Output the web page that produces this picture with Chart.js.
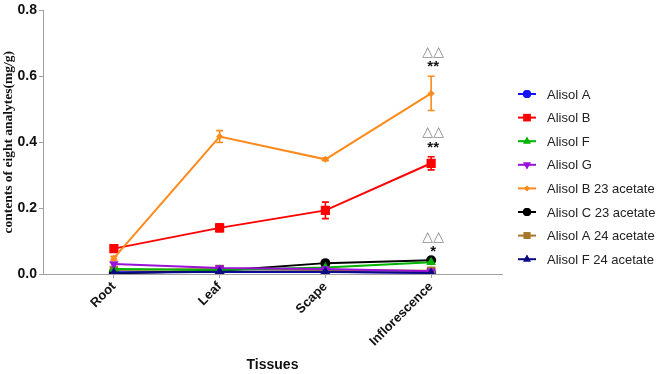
<!DOCTYPE html>
<html>
<head>
<meta charset="utf-8">
<script src="https://cdn.jsdelivr.net/npm/chart.js@4/dist/chart.umd.min.js"></script>
<style>
  html, body { margin: 0; padding: 0; background: #fff; }
  #wrap { width: 666px; height: 374px; position: relative; }
</style>
</head>
<body>
<div id="wrap"><canvas id="tissueChart"></canvas></div>
<script>
// categories and tick labels
const tissues = ["Root", "Leaf", "Scape", "Inflorescence"];
const yTicks = [0, 0.2, 0.4, 0.6, 0.8];

// series values (mg/g)
const alisolA = [0.005, 0.006, 0.006, 0.004];
const alisolB = [0.077, 0.140, 0.193, 0.336];
const alisolF = [0.015, 0.012, 0.020, 0.036];
const alisolG = [0.030, 0.018, 0.015, 0.008];
const alisolB23 = [0.048, 0.417, 0.348, 0.548];
const alisolC23 = [0.002, 0.010, 0.033, 0.042];
const alisolA24 = [0.012, 0.015, 0.012, 0.010];
const alisolF24 = [0.004, 0.007, 0.007, 0.003];

// error bars (SD)
const alisolBErr = [0.010, 0.012, 0.025, 0.020];
const alisolB23Err = [0.006, 0.018, 0.004, 0.052];

const seriesNames = ["Alisol A", "Alisol B", "Alisol F", "Alisol G",
  "Alisol B 23 acetate", "Alisol C 23 acetate", "Alisol A 24 acetate", "Alisol F 24 acetate"];
const seriesValues = [alisolA, alisolB, alisolF, alisolG, alisolB23, alisolC23, alisolA24, alisolF24];
const seriesErrors = [null, alisolBErr, null, null, alisolB23Err, null, null, null];

// significance marks at Inflorescence
const marks = [
  { series: 4, star: "**" },
  { series: 1, star: "**" },
  { series: 5, star: "*" }
];

const styles = [
  { color: "#1414ff", point: "circle", radius: 5, rot: 0 },
  { color: "#ff0000", point: "rect", radius: 6.5, rot: 0 },
  { color: "#00b400", point: "triangle", radius: 5.5, rot: 0 },
  { color: "#9a10d8", point: "triangle", radius: 5.5, rot: 180 },
  { color: "#ff8a1c", point: "rectRot", radius: 3.5, rot: 0 },
  { color: "#000000", point: "circle", radius: 5, rot: 0 },
  { color: "#a8782a", point: "rect", radius: 6, rot: 0 },
  { color: "#0a0a84", point: "triangle", radius: 5.5, rot: 0 }
];
// draw order so the small series near zero stack like the figure
const drawOrder = [7, 2, 4, 3, 1, 5, 6, 0];

const datasets = seriesNames.map((name, i) => ({
  label: name,
  data: seriesValues[i].map((v, j) => ({ x: j, y: v })),
  borderColor: styles[i].color,
  backgroundColor: styles[i].color,
  pointStyle: styles[i].point,
  pointRadius: styles[i].radius,
  pointRotation: styles[i].rot,
  pointBorderWidth: 0,
  borderWidth: 2,
  order: drawOrder[i]
}));

const errorBars = {
  id: "errorBars",
  afterDatasetsDraw(chart) {
    const ctx = chart.ctx, ys = chart.scales.y, xs = chart.scales.x;
    seriesErrors.forEach((err, i) => {
      if (!err) return;
      ctx.save();
      ctx.strokeStyle = styles[i].color;
      ctx.lineWidth = 1.6;
      err.forEach((e, j) => {
        const x = xs.getPixelForValue(j);
        const v = seriesValues[i][j];
        const top = ys.getPixelForValue(v + e), bot = ys.getPixelForValue(v - e);
        ctx.beginPath();
        ctx.moveTo(x, top); ctx.lineTo(x, bot);
        ctx.moveTo(x - 3.5, top); ctx.lineTo(x + 3.5, top);
        ctx.moveTo(x - 3.5, bot); ctx.lineTo(x + 3.5, bot);
        ctx.stroke();
      });
      ctx.restore();
    });
  }
};

const sigMarks = {
  id: "sigMarks",
  afterDatasetsDraw(chart) {
    const ctx = chart.ctx, ys = chart.scales.y, xs = chart.scales.x;
    const j = tissues.length - 1;
    ctx.save();
    ctx.textAlign = "center";
    ctx.textBaseline = "middle";
    marks.forEach(m => {
      const v = seriesValues[m.series][j];
      const err = seriesErrors[m.series] ? seriesErrors[m.series][j] : 0;
      const x = xs.getPixelForValue(j) + 2;
      const top = ys.getPixelForValue(v + err) - (err ? 6 : 5);
      ctx.fillStyle = "#111";
      ctx.font = "bold 15px 'Liberation Sans', Arial";
      ctx.fillText(m.star, x, top - 3);
      ctx.fillStyle = "#8a8a8a";
      ctx.font = "14px 'DejaVu Sans'";
      ctx.fillText("\u25B3\u25B3", x, top - 18);
    });
    ctx.restore();
  }
};

const sideLegend = {
  id: "sideLegend",
  afterDraw(chart) {
    const ctx = chart.ctx;
    const x0 = 527, y0 = 94, step = 23.6;
    ctx.save();
    seriesNames.forEach((name, i) => {
      const y = y0 + i * step;
      ctx.strokeStyle = styles[i].color;
      ctx.fillStyle = styles[i].color;
      ctx.lineWidth = 2;
      ctx.beginPath();
      ctx.moveTo(x0 - 9, y); ctx.lineTo(x0 + 9, y);
      ctx.stroke();
      Chart.helpers.drawPoint(ctx, {
        pointStyle: styles[i].point,
        radius: styles[i].radius * 0.8,
        rotation: styles[i].rot,
        borderWidth: 0
      }, x0, y);
      ctx.fill();
      ctx.fillStyle = "#222";
      ctx.font = "13px 'Liberation Sans', Arial";
      ctx.textAlign = "left";
      ctx.textBaseline = "middle";
      ctx.fillText(name, x0 + 20, y + 1);
    });
    ctx.restore();
  }
};

new Chart(document.getElementById("tissueChart"), {
  type: "line",
  data: { datasets: datasets },
  plugins: [errorBars, sigMarks, sideLegend],
  options: {
    responsive: true,
    maintainAspectRatio: false,
    animation: false,
    layout: { padding: { left: 0, right: 164, top: 5, bottom: 0 } },
    plugins: { legend: { display: false }, tooltip: { enabled: false } },
    scales: {
      x: {
        type: "linear",
        min: -0.67,
        max: 3.67,
        afterBuildTicks(axis) { axis.ticks = tissues.map((t, i) => ({ value: i })); },
        afterFit(axis) { axis.height = 100; },
        border: { color: "#a0a0a0", width: 1 },
        grid: { drawOnChartArea: false, drawTicks: true, tickLength: 4, color: "#a0a0a0" },
        ticks: {
          autoSkip: false,
          maxRotation: 45,
          minRotation: 45,
          padding: 1,
          color: "#111",
          font: { family: "'Liberation Sans', Arial", size: 13, weight: "bold" },
          callback: v => tissues[v]
        },
        title: {
          display: true,
          text: "Tissues",
          color: "#111",
          font: { family: "'Liberation Sans', Arial", size: 14, weight: "bold" },
          padding: { top: 0, bottom: 0 }
        }
      },
      y: {
        min: 0,
        max: 0.8,
        afterBuildTicks(axis) { axis.ticks = yTicks.map(v => ({ value: v })); },
        afterFit(axis) { axis.width = 43; },
        border: { color: "#a0a0a0", width: 1 },
        grid: { drawOnChartArea: false, drawTicks: true, tickLength: 4, color: "#a0a0a0" },
        ticks: {
          color: "#111",
          padding: 2,
          font: { family: "'Liberation Sans', Arial", size: 14, weight: "bold" },
          callback: v => v.toFixed(1)
        },
        title: {
          display: true,
          text: "contents of eight analytes(mg/g)",
          color: "#111",
          font: { family: "'Liberation Serif', 'Times New Roman', serif", size: 13.5, weight: "bold" },
          padding: { top: 0, bottom: 0 }
        }
      }
    }
  }
});
</script>
</body>
</html>
